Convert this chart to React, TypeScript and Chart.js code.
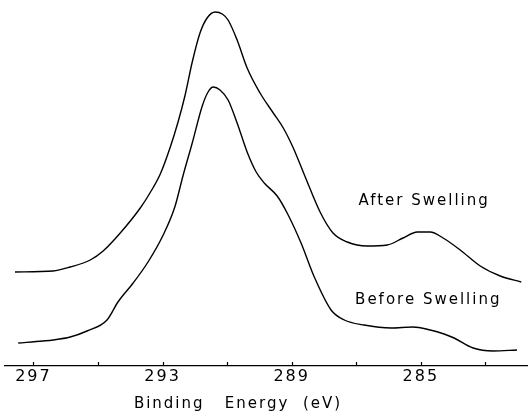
import React, { useEffect, useRef } from "react";
import { Chart, registerables } from "chart.js";

Chart.register(...registerables);

// Binding energy (eV) and relative intensity
const afterEV = [297.57, 296.39, 295.86, 295.24, 294.84, 294.31, 293.69, 293.39, 293.07, 292.77, 292.52, 292.30, 292.08, 291.84, 291.62, 291.37, 291.15, 290.97, 290.69, 290.38, 289.98, 289.57, 289.26, 288.95, 288.58, 288.12, 287.72, 287.28, 286.66, 286.04, 285.55, 285.11, 284.71, 284.31, 283.78, 283.16, 282.54, 281.89];
const afterI = [94, 95, 99, 106, 115, 133, 158, 173, 192, 218, 244, 271, 304, 333, 348, 354, 352, 346, 326, 298, 273, 253, 238, 218, 189, 154, 133, 124, 120, 121, 128, 134, 134, 128, 116, 100, 90, 84];

const beforeEV = [297.47, 296.70, 296.39, 295.86, 295.34, 294.72, 294.38, 293.91, 293.45, 292.98, 292.62, 292.36, 292.08, 291.77, 291.59, 291.43, 291.22, 290.97, 290.69, 290.38, 290.10, 289.85, 289.45, 289.14, 288.71, 288.30, 287.78, 287.37, 286.76, 285.92, 285.24, 284.71, 284.28, 283.97, 283.38, 282.76, 282.02];
const beforeI = [23, 25, 26, 29, 35, 46, 64, 83, 104, 131, 159, 191, 223, 260, 274, 279, 276, 266, 243, 214, 194, 183, 170, 153, 123, 89, 56, 46, 41, 38, 39, 36, 32, 28, 18, 15, 16];

const seriesNames = ["After Swelling", "Before Swelling"];
const xTicks = [297, 295, 293, 291, 289, 287, 285, 283];
const labeledTicks = [297, 293, 289, 285];
const axisTitle = "Binding   Energy  (eV)";

const FONT = '"DejaVu Sans", sans-serif';

const tickMarks = {
  id: "tickMarks",
  beforeDraw(chart: any) {
    chart.ctx.letterSpacing = "2px";
  },
  afterDraw(chart: any) {
    const ctx = chart.ctx;
    const xs = chart.scales.x;
    const area = chart.chartArea;
    ctx.save();
    ctx.strokeStyle = "#000";
    ctx.lineWidth = 1.2;
    xs.ticks.forEach((t: any) => {
      const px = Math.round(xs.getPixelForValue(t.value)) + 0.5;
      ctx.beginPath();
      ctx.moveTo(px, area.bottom);
      ctx.lineTo(px, area.bottom - 4);
      ctx.stroke();
    });
    // axis title
    ctx.font = `15px ${FONT}`;
    ctx.letterSpacing = "2px";
    ctx.fillStyle = "#000";
    ctx.textAlign = "center";
    ctx.textBaseline = "alphabetic";
    ctx.fillText(axisTitle, area.left + 233, area.bottom + 42);
    ctx.restore();
  },
};

const seriesLabels = {
  id: "seriesLabels",
  afterDatasetsDraw(chart: any, _args: any, opts: any) {
    const ctx = chart.ctx;
    const xs = chart.scales.x;
    const ys = chart.scales.y;
    ctx.save();
    ctx.font = `15px ${FONT}`;
    ctx.letterSpacing = "2px";
    ctx.fillStyle = "#000";
    ctx.textAlign = "center";
    ctx.textBaseline = "middle";
    (opts.anchors || []).forEach((a: any, i: number) => {
      ctx.fillText(seriesNames[i], xs.getPixelForValue(a.x) + 1, ys.getPixelForValue(a.y));
    });
    ctx.restore();
  },
};

export default function App() {
  const ref = useRef<HTMLCanvasElement | null>(null);

  useEffect(() => {
    document.body.style.margin = "0";
    const canvas = ref.current;
    if (!canvas) return;
    const mk = (xs: number[], ys: number[]) => xs.map((x, i) => ({ x, y: ys[i] }));
    const line = {
      borderColor: "#000",
      borderWidth: 1.4,
      pointRadius: 0,
      cubicInterpolationMode: "monotone" as const,
      fill: false,
    };
    const chart = new Chart(canvas, {
      type: "line",
      data: {
        datasets: [
          { label: seriesNames[0], data: mk(afterEV, afterI), ...line },
          { label: seriesNames[1], data: mk(beforeEV, beforeI), ...line },
        ],
      },
      options: {
        animation: false,
        responsive: false,
        maintainAspectRatio: false,
        layout: { padding: { left: 5, right: 0, top: 0, bottom: 26.8 } },
        plugins: {
          legend: { display: false },
          tooltip: { enabled: false },
          seriesLabels: {
            anchors: [
              { x: 284.93, y: 165 },
              { x: 284.8, y: 66 },
            ],
          },
        } as any,
        scales: {
          x: {
            type: "linear",
            reverse: true,
            min: 281.68,
            max: 297.88,
            afterBuildTicks: (axis: any) => {
              axis.ticks = xTicks.map((v) => ({ value: v }));
            },
            grid: { display: true, drawOnChartArea: false, drawTicks: false, tickLength: 0 },
            border: { display: true, color: "#000", width: 1.3 },
            ticks: {
              autoSkip: false,
              maxRotation: 0,
              padding: 1,
              color: "#000",
              font: { family: FONT, size: 16 },
              callback: (v: any) => (labeledTicks.includes(Number(v)) ? String(v) : ""),
            },
            title: { display: false },
          },
          y: {
            display: false,
            min: 0,
            max: 366,
          },
        },
      },
      plugins: [tickMarks, seriesLabels],
    });
    return () => chart.destroy();
  }, []);

  return (
    <div style={{ width: 528, height: 414, background: "#fff" }}>
      <canvas ref={ref} width={528} height={414} />
    </div>
  );
}
